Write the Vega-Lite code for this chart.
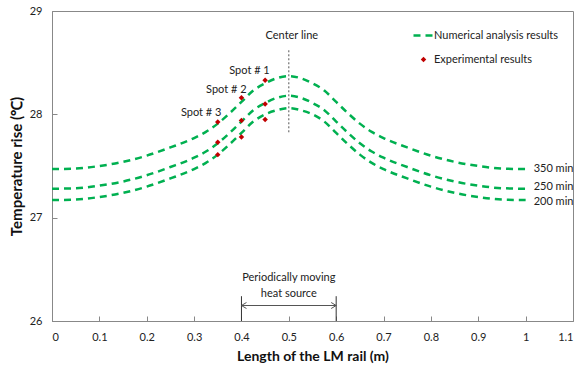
{
  "$schema": "https://vega.github.io/schema/vega-lite/v6.json",
  "width": 521,
  "height": 310,
  "autosize": {"type": "none"},
  "padding": {"left": 52, "top": 11, "right": 11, "bottom": 51},
  "background": "white",
  "config": {
    "font": "Lato",
    "view": {"stroke": "#888888", "strokeWidth": 1},
    "axis": {
      "grid": false,
      "domainColor": "#888888",
      "tickColor": "#888888",
      "tickSize": -5,
      "labelPadding": 15,
      "labelFont": "Lato",
      "labelFontSize": 11,
      "labelColor": "#222222",
      "titleFont": "Lato",
      "titleFontSize": 14,
      "titleFontWeight": "bold",
      "titleColor": "#111111"
    },
    "text": {"font": "Lato", "fontSize": 11, "color": "#222222"}
  },
  "datasets": {
    "curves": [
      {"x": 0, "T": 27.47, "time": "350 min", "kind": "Numerical analysis results"},
      {"x": 0.05, "T": 27.475, "time": "350 min", "kind": "Numerical analysis results"},
      {"x": 0.1, "T": 27.5, "time": "350 min", "kind": "Numerical analysis results"},
      {"x": 0.15, "T": 27.54, "time": "350 min", "kind": "Numerical analysis results"},
      {"x": 0.2, "T": 27.6, "time": "350 min", "kind": "Numerical analysis results"},
      {"x": 0.25, "T": 27.68, "time": "350 min", "kind": "Numerical analysis results"},
      {"x": 0.3, "T": 27.77, "time": "350 min", "kind": "Numerical analysis results"},
      {"x": 0.325, "T": 27.83, "time": "350 min", "kind": "Numerical analysis results"},
      {"x": 0.35, "T": 27.91, "time": "350 min", "kind": "Numerical analysis results"},
      {"x": 0.375, "T": 28.01, "time": "350 min", "kind": "Numerical analysis results"},
      {"x": 0.4, "T": 28.12, "time": "350 min", "kind": "Numerical analysis results"},
      {"x": 0.425, "T": 28.23, "time": "350 min", "kind": "Numerical analysis results"},
      {"x": 0.45, "T": 28.3, "time": "350 min", "kind": "Numerical analysis results"},
      {"x": 0.475, "T": 28.35, "time": "350 min", "kind": "Numerical analysis results"},
      {"x": 0.5, "T": 28.37, "time": "350 min", "kind": "Numerical analysis results"},
      {"x": 0.525, "T": 28.35, "time": "350 min", "kind": "Numerical analysis results"},
      {"x": 0.55, "T": 28.3, "time": "350 min", "kind": "Numerical analysis results"},
      {"x": 0.575, "T": 28.23, "time": "350 min", "kind": "Numerical analysis results"},
      {"x": 0.6, "T": 28.12, "time": "350 min", "kind": "Numerical analysis results"},
      {"x": 0.625, "T": 28.01, "time": "350 min", "kind": "Numerical analysis results"},
      {"x": 0.65, "T": 27.91, "time": "350 min", "kind": "Numerical analysis results"},
      {"x": 0.675, "T": 27.83, "time": "350 min", "kind": "Numerical analysis results"},
      {"x": 0.7, "T": 27.77, "time": "350 min", "kind": "Numerical analysis results"},
      {"x": 0.75, "T": 27.68, "time": "350 min", "kind": "Numerical analysis results"},
      {"x": 0.8, "T": 27.6, "time": "350 min", "kind": "Numerical analysis results"},
      {"x": 0.85, "T": 27.54, "time": "350 min", "kind": "Numerical analysis results"},
      {"x": 0.9, "T": 27.5, "time": "350 min", "kind": "Numerical analysis results"},
      {"x": 0.95, "T": 27.475, "time": "350 min", "kind": "Numerical analysis results"},
      {"x": 1, "T": 27.47, "time": "350 min", "kind": "Numerical analysis results"},

      {"x": 0, "T": 27.28, "time": "250 min", "kind": "Numerical analysis results"},
      {"x": 0.05, "T": 27.285, "time": "250 min", "kind": "Numerical analysis results"},
      {"x": 0.1, "T": 27.31, "time": "250 min", "kind": "Numerical analysis results"},
      {"x": 0.15, "T": 27.35, "time": "250 min", "kind": "Numerical analysis results"},
      {"x": 0.2, "T": 27.41, "time": "250 min", "kind": "Numerical analysis results"},
      {"x": 0.25, "T": 27.49, "time": "250 min", "kind": "Numerical analysis results"},
      {"x": 0.3, "T": 27.58, "time": "250 min", "kind": "Numerical analysis results"},
      {"x": 0.325, "T": 27.64, "time": "250 min", "kind": "Numerical analysis results"},
      {"x": 0.35, "T": 27.72, "time": "250 min", "kind": "Numerical analysis results"},
      {"x": 0.375, "T": 27.82, "time": "250 min", "kind": "Numerical analysis results"},
      {"x": 0.4, "T": 27.93, "time": "250 min", "kind": "Numerical analysis results"},
      {"x": 0.425, "T": 28.04, "time": "250 min", "kind": "Numerical analysis results"},
      {"x": 0.45, "T": 28.11, "time": "250 min", "kind": "Numerical analysis results"},
      {"x": 0.475, "T": 28.16, "time": "250 min", "kind": "Numerical analysis results"},
      {"x": 0.5, "T": 28.18, "time": "250 min", "kind": "Numerical analysis results"},
      {"x": 0.525, "T": 28.16, "time": "250 min", "kind": "Numerical analysis results"},
      {"x": 0.55, "T": 28.11, "time": "250 min", "kind": "Numerical analysis results"},
      {"x": 0.575, "T": 28.04, "time": "250 min", "kind": "Numerical analysis results"},
      {"x": 0.6, "T": 27.93, "time": "250 min", "kind": "Numerical analysis results"},
      {"x": 0.625, "T": 27.82, "time": "250 min", "kind": "Numerical analysis results"},
      {"x": 0.65, "T": 27.72, "time": "250 min", "kind": "Numerical analysis results"},
      {"x": 0.675, "T": 27.64, "time": "250 min", "kind": "Numerical analysis results"},
      {"x": 0.7, "T": 27.58, "time": "250 min", "kind": "Numerical analysis results"},
      {"x": 0.75, "T": 27.49, "time": "250 min", "kind": "Numerical analysis results"},
      {"x": 0.8, "T": 27.41, "time": "250 min", "kind": "Numerical analysis results"},
      {"x": 0.85, "T": 27.35, "time": "250 min", "kind": "Numerical analysis results"},
      {"x": 0.9, "T": 27.31, "time": "250 min", "kind": "Numerical analysis results"},
      {"x": 0.95, "T": 27.285, "time": "250 min", "kind": "Numerical analysis results"},
      {"x": 1, "T": 27.28, "time": "250 min", "kind": "Numerical analysis results"},

      {"x": 0, "T": 27.17, "time": "200 min", "kind": "Numerical analysis results"},
      {"x": 0.05, "T": 27.175, "time": "200 min", "kind": "Numerical analysis results"},
      {"x": 0.1, "T": 27.2, "time": "200 min", "kind": "Numerical analysis results"},
      {"x": 0.15, "T": 27.24, "time": "200 min", "kind": "Numerical analysis results"},
      {"x": 0.2, "T": 27.3, "time": "200 min", "kind": "Numerical analysis results"},
      {"x": 0.25, "T": 27.38, "time": "200 min", "kind": "Numerical analysis results"},
      {"x": 0.3, "T": 27.47, "time": "200 min", "kind": "Numerical analysis results"},
      {"x": 0.325, "T": 27.53, "time": "200 min", "kind": "Numerical analysis results"},
      {"x": 0.35, "T": 27.61, "time": "200 min", "kind": "Numerical analysis results"},
      {"x": 0.375, "T": 27.71, "time": "200 min", "kind": "Numerical analysis results"},
      {"x": 0.4, "T": 27.82, "time": "200 min", "kind": "Numerical analysis results"},
      {"x": 0.425, "T": 27.93, "time": "200 min", "kind": "Numerical analysis results"},
      {"x": 0.45, "T": 28.0, "time": "200 min", "kind": "Numerical analysis results"},
      {"x": 0.475, "T": 28.04, "time": "200 min", "kind": "Numerical analysis results"},
      {"x": 0.5, "T": 28.06, "time": "200 min", "kind": "Numerical analysis results"},
      {"x": 0.525, "T": 28.04, "time": "200 min", "kind": "Numerical analysis results"},
      {"x": 0.55, "T": 28.0, "time": "200 min", "kind": "Numerical analysis results"},
      {"x": 0.575, "T": 27.93, "time": "200 min", "kind": "Numerical analysis results"},
      {"x": 0.6, "T": 27.82, "time": "200 min", "kind": "Numerical analysis results"},
      {"x": 0.625, "T": 27.71, "time": "200 min", "kind": "Numerical analysis results"},
      {"x": 0.65, "T": 27.61, "time": "200 min", "kind": "Numerical analysis results"},
      {"x": 0.675, "T": 27.53, "time": "200 min", "kind": "Numerical analysis results"},
      {"x": 0.7, "T": 27.47, "time": "200 min", "kind": "Numerical analysis results"},
      {"x": 0.75, "T": 27.38, "time": "200 min", "kind": "Numerical analysis results"},
      {"x": 0.8, "T": 27.3, "time": "200 min", "kind": "Numerical analysis results"},
      {"x": 0.85, "T": 27.24, "time": "200 min", "kind": "Numerical analysis results"},
      {"x": 0.9, "T": 27.2, "time": "200 min", "kind": "Numerical analysis results"},
      {"x": 0.95, "T": 27.175, "time": "200 min", "kind": "Numerical analysis results"},
      {"x": 1, "T": 27.17, "time": "200 min", "kind": "Numerical analysis results"}
    ],
    "exp": [
      {"x": 0.35, "T": 27.925, "spot": "Spot # 3", "time": "350 min", "kind": "Experimental results"},
      {"x": 0.4, "T": 28.16, "spot": "Spot # 2", "time": "350 min", "kind": "Experimental results"},
      {"x": 0.45, "T": 28.33, "spot": "Spot # 1", "time": "350 min", "kind": "Experimental results"},
      {"x": 0.35, "T": 27.73, "spot": "Spot # 3", "time": "250 min", "kind": "Experimental results"},
      {"x": 0.4, "T": 27.94, "spot": "Spot # 2", "time": "250 min", "kind": "Experimental results"},
      {"x": 0.45, "T": 28.1, "spot": "Spot # 1", "time": "250 min", "kind": "Experimental results"},
      {"x": 0.35, "T": 27.61, "spot": "Spot # 3", "time": "200 min", "kind": "Experimental results"},
      {"x": 0.4, "T": 27.78, "spot": "Spot # 2", "time": "200 min", "kind": "Experimental results"},
      {"x": 0.45, "T": 27.95, "spot": "Spot # 1", "time": "200 min", "kind": "Experimental results"}
    ],
    "spotLabels": [
      {"x": 0.417, "T": 28.42, "label": "Spot # 1"},
      {"x": 0.368, "T": 28.24, "label": "Spot # 2"},
      {"x": 0.315, "T": 28.01, "label": "Spot # 3"}
    ],
    "endLabels": [
      {"x": 1, "T": 27.47, "label": "350 min"},
      {"x": 1, "T": 27.3, "label": "250 min"},
      {"x": 1, "T": 27.155, "label": "200 min"}
    ],
    "centerLine": [{"x": 0.5, "T": 28.62, "T2": 27.82}],
    "centerText": [{"x": 0.5, "T": 28.76, "label": "Center line"}],
    "heatText": [
      {"x": 0.5, "T": 26.42, "label": "Periodically moving"},
      {"x": 0.5, "T": 26.26, "label": "heat source"}
    ],
    "arrowLine": [{"x": 0.4, "x2": 0.6, "T": 26.15}],
    "arrowBars": [
      {"x": 0.4, "T": 26.0, "T2": 26.24},
      {"x": 0.6, "T": 26.0, "T2": 26.24}
    ],
    "arrowHeads": [
      {"x": 0.4, "T": 26.15, "dir": "left"},
      {"x": 0.6, "T": 26.15, "dir": "right"}
    ]
  },
  "layer": [
    {
      "data": {"name": "curves"},
      "mark": {"type": "line", "strokeDash": [7, 5], "strokeWidth": 2.5, "interpolate": "monotone"},
      "encoding": {
        "x": {
          "field": "x", "type": "quantitative",
          "scale": {"domain": [0, 1.1], "nice": false, "zero": false},
          "axis": {
            "title": "Length of the LM rail (m)",
            "values": [0, 0.1, 0.2, 0.3, 0.4, 0.5, 0.6, 0.7, 0.8, 0.9, 1, 1.1],
            "format": ".1~f",
            "titlePadding": 7,
            "titleFontSize": 14
          }
        },
        "y": {
          "field": "T", "type": "quantitative",
          "scale": {"domain": [26, 29], "nice": false, "zero": false},
          "axis": {
            "title": "Temperature rise (℃)",
            "values": [26, 27, 28, 29],
            "format": "d",
            "titlePadding": 5,
            "titleFontSize": 15
          }
        },
        "detail": {"field": "time"},
        "color": {
          "field": "kind", "type": "nominal",
          "scale": {
            "domain": ["Numerical analysis results", "Experimental results"],
            "range": ["#00b050", "#c00000"]
          },
          "legend": {
            "title": null,
            "orient": "none",
            "legendX": 366,
            "legendY": 19,
            "padding": 0,
            "labelFont": "Lato",
            "labelFontSize": 11,
            "labelColor": "#222222",
            "labelOffset": 5,
            "rowPadding": 12,
            "symbolSize": 400,
            "encode": {
              "symbols": {
                "update": {
                  "shape": {"signal": "datum.value === 'Experimental results' ? 'diamond' : 'stroke'"},
                  "size": {"signal": "datum.value === 'Experimental results' ? 30 : 400"},
                  "strokeDash": {"signal": "datum.value === 'Experimental results' ? [] : [7, 5]"},
                  "strokeWidth": {"signal": "datum.value === 'Experimental results' ? 0 : 2.5"},
                  "fill": {"signal": "datum.value === 'Experimental results' ? '#c00000' : 'transparent'"},
                  "stroke": {"signal": "datum.value === 'Experimental results' ? '#c00000' : '#00b050'"},
                  "opacity": {"value": 1}
                }
              }
            }
          }
        }
      }
    },
    {
      "data": {"name": "exp"},
      "mark": {"type": "point", "shape": "diamond", "filled": true, "size": 30, "opacity": 1},
      "encoding": {
        "x": {"field": "x", "type": "quantitative"},
        "y": {"field": "T", "type": "quantitative"},
        "color": {"field": "kind", "type": "nominal"}
      }
    },
    {
      "data": {"name": "centerLine"},
      "mark": {"type": "rule", "color": "#555555", "strokeWidth": 1, "strokeDash": [2, 2]},
      "encoding": {
        "x": {"field": "x", "type": "quantitative"},
        "y": {"field": "T", "type": "quantitative"},
        "y2": {"field": "T2"}
      }
    },
    {
      "data": {"name": "centerText"},
      "mark": {"type": "text", "align": "center", "baseline": "middle", "dx": 3, "fontSize": 11},
      "encoding": {
        "x": {"field": "x", "type": "quantitative"},
        "y": {"field": "T", "type": "quantitative"},
        "text": {"field": "label"}
      }
    },
    {
      "data": {"name": "spotLabels"},
      "mark": {"type": "text", "align": "center", "baseline": "middle", "fontSize": 11},
      "encoding": {
        "x": {"field": "x", "type": "quantitative"},
        "y": {"field": "T", "type": "quantitative"},
        "text": {"field": "label"}
      }
    },
    {
      "data": {"name": "endLabels"},
      "mark": {"type": "text", "align": "left", "baseline": "middle", "dx": 8, "fontSize": 11},
      "encoding": {
        "x": {"field": "x", "type": "quantitative"},
        "y": {"field": "T", "type": "quantitative"},
        "text": {"field": "label"}
      }
    },
    {
      "data": {"name": "heatText"},
      "mark": {"type": "text", "align": "center", "baseline": "middle", "fontSize": 11},
      "encoding": {
        "x": {"field": "x", "type": "quantitative"},
        "y": {"field": "T", "type": "quantitative"},
        "text": {"field": "label"}
      }
    },
    {
      "data": {"name": "arrowLine"},
      "mark": {"type": "rule", "color": "#555555", "strokeWidth": 1},
      "encoding": {
        "x": {"field": "x", "type": "quantitative"},
        "x2": {"field": "x2"},
        "y": {"field": "T", "type": "quantitative"}
      }
    },
    {
      "data": {"name": "arrowBars"},
      "mark": {"type": "rule", "color": "#333333", "strokeWidth": 1},
      "encoding": {
        "x": {"field": "x", "type": "quantitative"},
        "y": {"field": "T", "type": "quantitative"},
        "y2": {"field": "T2"}
      }
    },
    {
      "data": {"name": "arrowHeads"},
      "mark": {"type": "point", "filled": false, "color": "#555555", "strokeWidth": 1, "size": 100, "opacity": 1},
      "encoding": {
        "x": {"field": "x", "type": "quantitative"},
        "y": {"field": "T", "type": "quantitative"},
        "shape": {
          "field": "dir", "type": "nominal",
          "scale": {"domain": ["left", "right"], "range": ["M1,-0.6L0,0L1,0.6", "M-1,-0.6L0,0L-1,0.6"]},
          "legend": null
        }
      }
    }
  ]
}
